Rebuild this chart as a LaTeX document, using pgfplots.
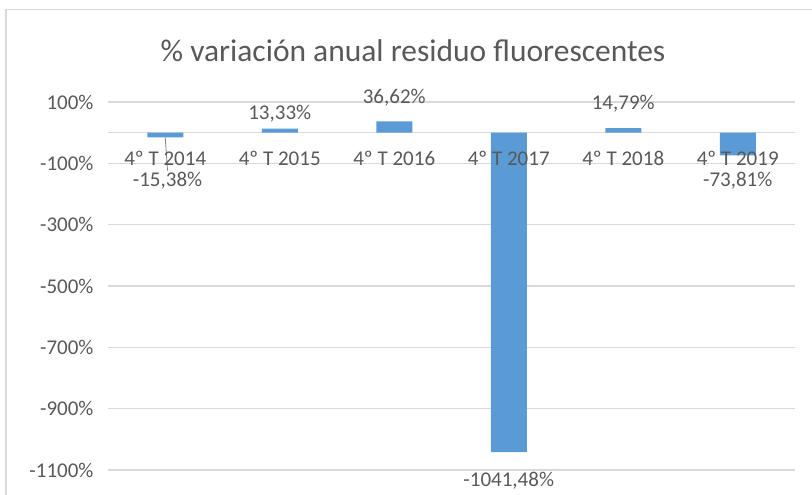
\documentclass[border=0pt]{standalone}
\usepackage{pgfplots}
\pgfplotsset{compat=1.18}
\usepackage{fontspec}
\setmainfont{Carlito}

\definecolor{barblue}{HTML}{5B9BD5}
\definecolor{gridgray}{HTML}{D9D9D9}
\definecolor{txtgray}{HTML}{595959}

\begin{document}
\begin{tikzpicture}
\path[use as bounding box] (0,0) rectangle (812bp,495bp);
\draw[gridgray, line width=1.5bp] (6bp,0) -- (6bp,485.5bp) -- (812bp,485.5bp);
\node[anchor=base, text=txtgray, font=\fontsize{31.5bp}{38bp}\selectfont]
  at (413bp,433bp) {\% variación anual residuo fluorescentes};

\begin{axis}[
    at={(108bp,25bp)}, anchor=south west,
    scale only axis,
    width=687bp, height=368bp,
    xmin=-0.5, xmax=5.5,
    ymin=-1100, ymax=100,
    clip=false,
    axis x line*=middle, axis y line*=left,
    y axis line style={draw=none},
    x axis line style={gridgray, line width=1.2bp},
    axis line style={-},
    major tick length=0pt,
    xtick=\empty,
    ytick={-1100,-900,-700,-500,-300,-100,100},
    yticklabels={-1100\%,-900\%,-700\%,-500\%,-300\%,-100\%,100\%},
    yticklabel style={xshift=-11bp},
    ymajorgrids,
    grid style={gridgray, line width=1.2bp},
    tick label style={font=\fontsize{21bp}{25bp}\selectfont, text=txtgray},
    lbl/.style={only marks, mark=*, mark size=0pt, mark options={draw=none, fill=none},
        nodes near coords, point meta=explicit symbolic,
        every node near coord/.append style={anchor=center, text=txtgray,
            font=\fontsize{21bp}{25bp}\selectfont}},
]
% bars
\addplot[ybar, bar width=36bp, fill=barblue, draw=none] coordinates {
    (0,-15.38) (1,13.33) (2,36.62) (3,-1041.48) (4,14.79) (5,-73.81)};
% leader line for the first label
\addplot[gray, line width=0.8bp] coordinates {(0,-16) (0.02,-124)};
% category names, drawn over the bars
\addplot[lbl] table[meta=label] {
x  y    label
0  -84  {4º T 2014}
1  -84  {4º T 2015}
2  -84  {4º T 2016}
3  -84  {4º T 2017}
4  -84  {4º T 2018}
5  -84  {4º T 2019}
};
% data labels
\addplot[lbl] table[meta=label] {
x    y      label
0.02 -156   {-15,38\%}
1    62     {13,33\%}
2    114    {36,62\%}
3    -1135  {-1041,48\%}
4    95     {14,79\%}
5    -156   {-73,81\%}
};
\end{axis}
\end{tikzpicture}
\end{document}
